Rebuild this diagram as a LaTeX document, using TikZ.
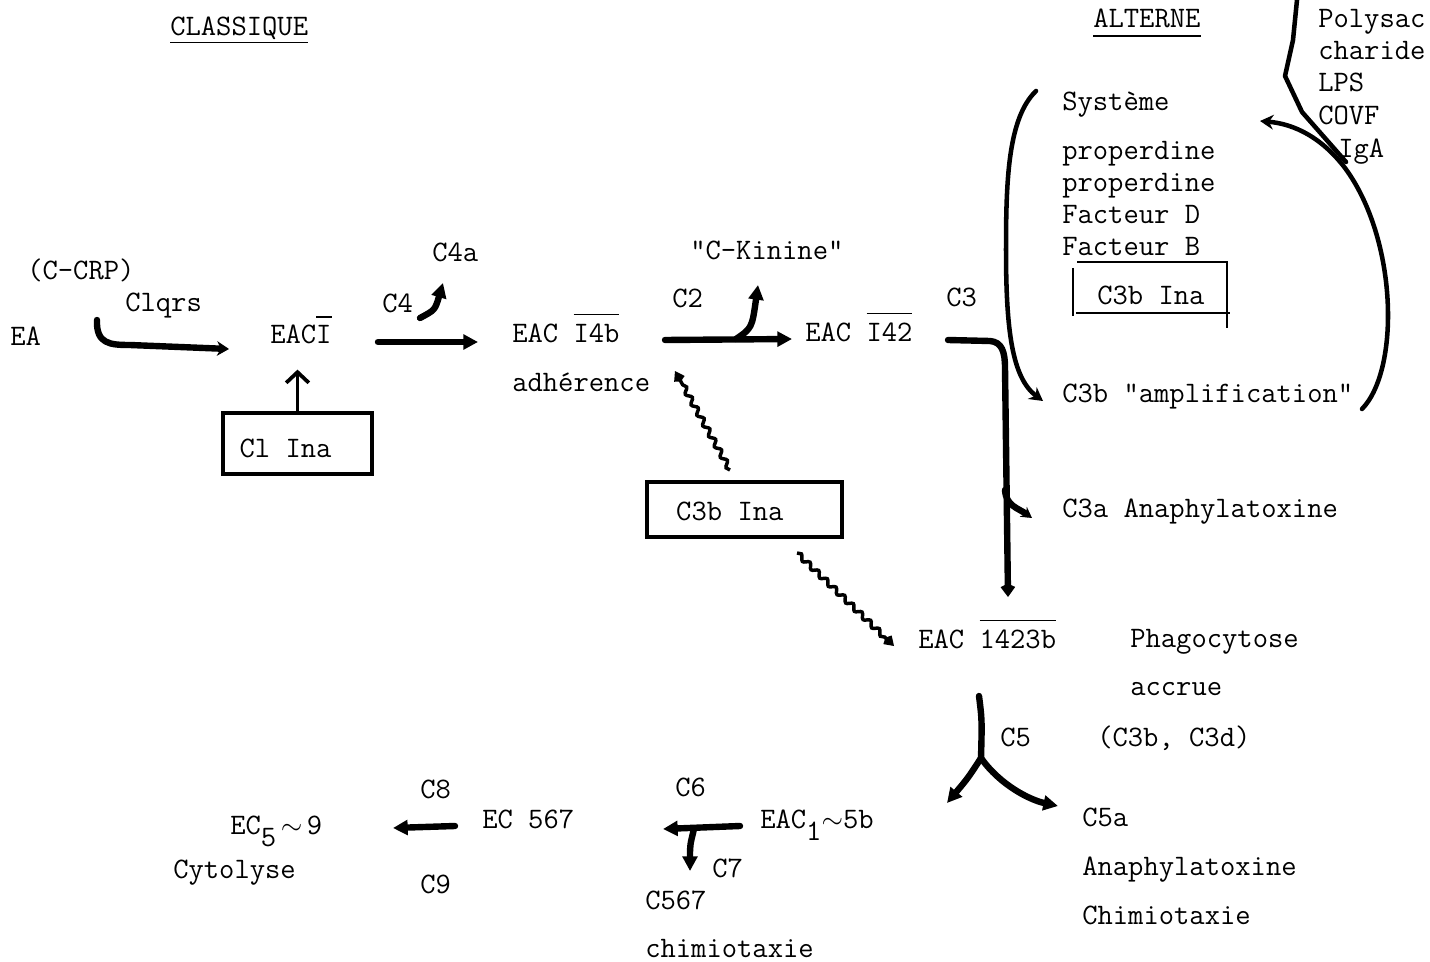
\documentclass[tikz,border=0pt]{standalone}
\usepackage{fontspec}
\usetikzlibrary{arrows.meta,decorations.pathmorphing}
\newcommand\twf{\ttfamily\fontsize{22.3pt}{26pt}\selectfont}
% overlined group of characters, typewriter style
\newcommand\ob[1]{\vbox{\hrule height 1pt\kern 6pt\hbox{#1}}}
% lowered index set in the same font
\newcommand\lowr[1]{\raisebox{-9pt}{#1}}

\begin{document}
\begin{tikzpicture}[x=0.75pt,y=-0.75pt,
  txt/.style={font=\twf, inner sep=0pt, anchor=base west},
  heavy/.style={line width=4.8pt, line cap=round, line join=round},
  medium/.style={line width=3.4pt, line cap=round, line join=round},
  ahead/.style={-{Triangle[length=11pt,width=11pt]}},
  shead/.style={-{Stealth[length=10pt,width=11pt]}},
  khead/.style={-{Kite[length=9pt,width=9pt]}},
  wavy/.style={line width=2.6pt, decorate,
    decoration={snake, amplitude=1.8pt, segment length=9pt, post length=9pt}},
  inhib/.style={draw, line width=3.6pt, font=\twf, inner sep=0pt}
]
\useasboundingbox (0,0) rectangle (1430,962);

% ---------- headings ----------
\node[txt] (classique) at (170,36) {CLASSIQUE};
\draw[line width=0.8pt] ([yshift=-5pt]classique.base west) -- ([yshift=-5pt]classique.base east);
\node[txt] (alterne) at (1093,28) {ALTERNE};
\draw[line width=0.8pt] ([yshift=-6pt]alterne.base west) -- ([yshift=-6pt]alterne.base east);

% ---------- classical pathway ----------
\node[txt] (crp) at (27,280) {(C-CRP)};
\node[txt] (c1qrs) at (125,312) {Clqrs};
\node[txt] (ea) at (10,345) {EA};
\node[txt] (eac1) at (270,344) {EAC\ob{I}};
\node[txt] (c4) at (382,313) {C4};
\node[txt] (c4a) at (432,262) {C4a};
\node[inhib, minimum width=111.75pt, minimum height=45.75pt, text height=21pt, text depth=0pt] (c1ina) at (297.5,443.5) {Cl Ina\hspace*{18pt}};
\node[txt] (eac4b) at (512,342) {EAC \ob{I4b}};
\node[txt] (adh) at (512,391) {adhérence};
\node[txt] (c2) at (672,308) {C2};
\node[txt] (kinine) at (690,260) {"C-Kinine"};
\node[txt] (eac42) at (805,341) {EAC \ob{I42}};
\node[inhib, minimum width=146.25pt, minimum height=41.25pt, text height=17pt, text depth=0pt] (c3bina) at (744.5,509.5) {C3b Ina\hspace*{22pt}};
\node[txt] (c3) at (946,306) {C3};

% ---------- alternative pathway ----------
\node[txt] (polysac) at (1318,28) {Polysac};
\node[txt] (charide) at (1318,60) {charide};
\node[txt] (lps) at (1318,92) {LPS};
\node[txt] (covf) at (1318,125) {COVF};
\node[txt] (iga) at (1338,158) {IgA};
\node[txt] (systeme) at (1062,111) {Système};
\node[txt] (prop1) at (1062,160) {properdine};
\node[txt] (prop2) at (1062,192) {properdine};
\node[txt] (factD) at (1062,224) {Facteur D};
\node[txt] (factB) at (1062,256) {Facteur B};
\node[txt] (c3binaB) at (1097,305) {C3b Ina};
\node[txt] (ampl) at (1062,402) {C3b "amplification"};
\node[txt] (c3a) at (1062,517) {C3a Anaphylatoxine};

% ---------- terminal pathway ----------
\node[txt] (eac3b) at (918,648) {EAC \ob{1423b}};
\node[txt] (phago) at (1130,647) {Phagocytose};
\node[txt] (accrue) at (1130,695) {accrue};
\node[txt] (c3bd) at (1097,746) {(C3b, C3d)};
\node[txt] (c5) at (1000,746) {C5};
\node[txt] (c5a) at (1082,826) {C5a};
\node[txt] (anaph) at (1082,875) {Anaphylatoxine};
\node[txt] (chimio) at (1082,924) {Chimiotaxie};
\node[txt] (eac5b) at (760,828) {EAC\lowr{1}$\sim$5b};
\node[txt] (c6) at (675,796) {C6};
\node[txt] (c7) at (712,877) {C7};
\node[txt] (c567) at (645,909) {C567};
\node[txt] (chimio2) at (645,957) {chimiotaxie};
\node[txt] (ec567) at (482,828) {EC 567};
\node[txt] (c8) at (420,798) {C8};
\node[txt] (c9) at (420,893) {C9};
\node[txt] (ec59) at (230,834) {EC\lowr{5}$\,\sim\,$9};
\node[txt] (cytolyse) at (173,878) {Cytolyse};

% ---------- connectors, classical pathway ----------
\draw[heavy, -{Stealth[length=9pt,width=11pt]}] (97,320) .. controls (96,344) and (110,345) .. (130,345) -- (229,349);
\draw[heavy, ahead] (378,342) -- (478,342);
\draw[heavy, ahead] (420,318) .. controls (435,310) .. (443,283);
\draw[line width=2.8pt, -{Straight Barb[length=8pt,width=17pt]}] (c1ina.north) -- ++(0,-41);
\draw[heavy, ahead] (665,340) -- (792,339);
\draw[heavy, ahead] (736,339) .. controls (752,328) .. (758,285);
\draw[wavy, khead] (730,470) -- (675,371);
\draw[wavy, khead] (797,553) -- (894,646);

% ---------- connectors, alternative pathway ----------
\draw[heavy, -{Kite[length=10pt,width=11pt]}] (948,340) -- (990,341) .. controls (1002,342) and (1005,352) .. (1005,368) -- (1008,597);
\draw[heavy, -{Stealth[length=8pt,width=9pt]}] (1005,490) .. controls (1006,506) and (1018,508) .. (1032,518);
\draw[medium, shead] (1036,91) .. controls (1008,118) and (1006,180) .. (1006,250) .. controls (1006,330) and (1012,378) .. (1043,401);
\draw[medium, shead] (1362,409) .. controls (1400,370) and (1398,240) .. (1345,168) .. controls (1322,138) and (1295,124) .. (1260,121);
\draw[medium] (1297,0) -- (1293,40) -- (1285,76) -- (1302,112) -- (1346,162);
\draw[line width=1.8pt] (1077,262) -- (1227,262) -- (1227,328);
\draw[line width=1.8pt] (1073,268) -- (1073,316);
\draw[line width=1.8pt] (1076,313) -- (1230,313);

% ---------- connectors, terminal pathway ----------
\draw[heavy] (979,696) .. controls (982,720) .. (981,758);
\draw[heavy, ahead] (981,758) .. controls (968,778) .. (947,803);
\draw[heavy, ahead] (981,758) .. controls (1000,785) and (1030,800) .. (1058,806);
\draw[heavy, ahead] (740,826) -- (663,829);
\draw[heavy, ahead] (694,829) .. controls (690,845) .. (690,871);
\draw[heavy, ahead] (455,826) -- (393,828);
\end{tikzpicture}
\end{document}
